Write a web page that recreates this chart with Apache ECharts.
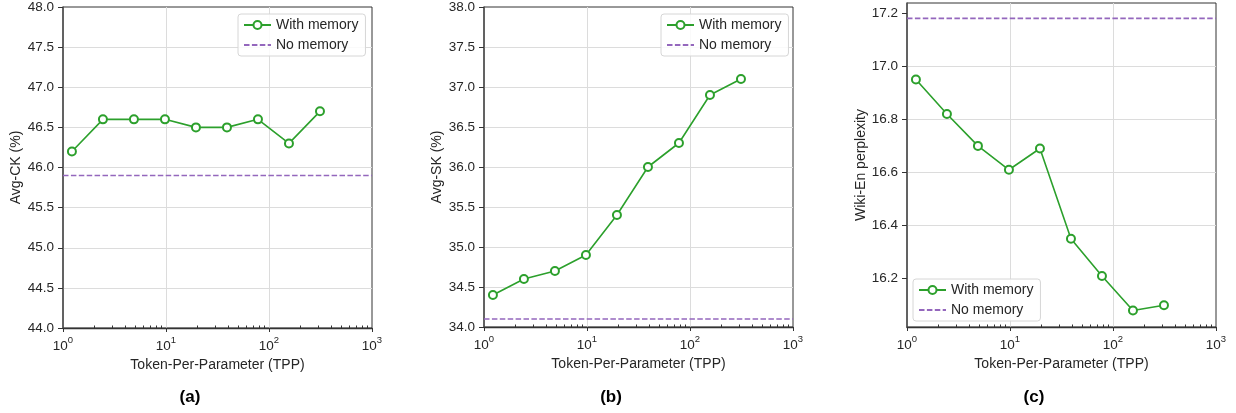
<!DOCTYPE html>
<html>
<head>
<meta charset="utf-8">
<script src="https://cdn.jsdelivr.net/npm/echarts@6/dist/echarts.min.js"></script>
<style>
  html, body { margin: 0; padding: 0; background: #fff; }
  #chart { width: 1236px; height: 413px; }
</style>
</head>
<body>
<div id="chart"></div>
<script>
// Token-per-parameter budgets shared by all three panels
const tpp = [1.2207, 2.4414, 4.8828, 9.7656, 19.531, 39.063, 78.125, 156.25, 312.5];

// (a) Avg-CK (%)
const ckWithMemory = [46.2, 46.6, 46.6, 46.6, 46.5, 46.5, 46.6, 46.3, 46.7];
const ckNoMemory = 45.9;
// (b) Avg-SK (%)
const skWithMemory = [34.4, 34.6, 34.7, 34.9, 35.4, 36.0, 36.3, 36.9, 37.1];
const skNoMemory = 34.1;
// (c) Wiki-En perplexity
const pplWithMemory = [16.95, 16.82, 16.70, 16.61, 16.69, 16.35, 16.21, 16.08, 16.10];
const pplNoMemory = 17.18;
const pplTicks = [16.2, 16.4, 16.6, 16.8, 17.0, 17.2];

const panelLabels = ['(a)', '(b)', '(c)'];
const yNames = ['Avg-CK (%)', 'Avg-SK (%)', 'Wiki-En perplexity'];
const xName = 'Token-Per-Parameter (TPP)';

const FONT = '"Liberation Sans", Arial, Helvetica, sans-serif';
const TEXT = '#262626';
const GREEN = '#2ca02c';
const PURPLE = '#9467bd';
const GRID_LINE = '#dcdcdc';

// minor tick positions for the log axis, expressed as decades
const minorLog = [];
for (let d = 0; d < 3; d++) {
  for (let k = 2; k <= 9; k++) minorLog.push(Math.log10(k * Math.pow(10, d)));
}

const panels = [
  { left: 63, top: 7, height: 321, y: ckWithMemory, base: ckNoMemory, yMin: 44, yMax: 48, interval: 0.5,
    legend: { left: 238, top: 14 }, labelX: 190, nameGap: 40 },
  { left: 484, top: 7, height: 320, y: skWithMemory, base: skNoMemory, yMin: 34, yMax: 38, interval: 0.5,
    legend: { left: 661, top: 14 }, labelX: 611, nameGap: 40 },
  { left: 907, top: 3, height: 324, y: pplWithMemory, base: pplNoMemory, yMin: 16.018, yMax: 17.238, custom: pplTicks,
    legend: { left: 913, top: 279 }, labelX: 1034, nameGap: 39 }
];

const grid = [], xAxis = [], yAxis = [], series = [], legend = [], graphic = [];

panels.forEach((p, i) => {
  grid.push({
    left: p.left, top: p.top, width: 309, height: p.height,
    show: true, borderColor: '#333', borderWidth: 1, backgroundColor: 'transparent'
  });

  // main logarithmic axis: data, labels, grid lines, major ticks
  xAxis.push({
    type: 'log', logBase: 10, gridIndex: i, min: 1, max: 1000, position: 'bottom',
    name: xName, nameLocation: 'middle', nameGap: 30,
    nameTextStyle: { fontFamily: FONT, fontSize: 14, color: TEXT },
    axisLine: { show: true, lineStyle: { color: '#333', width: 1.3 } },
    axisTick: { show: true, inside: false, length: 4, lineStyle: { color: '#333', width: 1 } },
    axisLabel: {
      margin: 7,
      formatter: v => '{b|10}{s|' + Math.round(Math.log10(v)) + '}',
      rich: {
        b: { fontFamily: FONT, fontSize: 13.5, color: TEXT, lineHeight: 18, verticalAlign: 'bottom' },
        s: { fontFamily: FONT, fontSize: 9.5, color: TEXT, lineHeight: 10, verticalAlign: 'top' }
      }
    },
    splitLine: { show: true, showMinLine: false, showMaxLine: false,
      lineStyle: { color: GRID_LINE, width: 1 } },
    minorTick: { show: false }
  });

  // companion axis in decade units carrying the minor ticks
  xAxis.push({
    type: 'value', gridIndex: i, min: 0, max: 3, position: 'bottom',
    axisLine: { show: false },
    axisLabel: { show: false },
    splitLine: { show: false },
    axisTick: { show: true, inside: true, length: 2.5, customValues: minorLog,
      lineStyle: { color: '#333', width: 1 } }
  });

  const yLabel = {
    margin: 9, fontFamily: FONT, fontSize: 13.5, color: TEXT,
    formatter: v => v.toFixed(1)
  };
  const yTick = { show: true, inside: false, length: 5, lineStyle: { color: '#333', width: 1 } };
  if (p.custom) {
    yLabel.customValues = p.custom;
    yTick.customValues = p.custom;
  }
  const y = {
    type: 'value', gridIndex: i, min: p.yMin, max: p.yMax,
    name: yNames[i], nameLocation: 'middle', nameGap: p.nameGap,
    nameTextStyle: { fontFamily: FONT, fontSize: 14, color: TEXT },
    axisLine: { show: true, lineStyle: { color: '#555', width: 1.6 } },
    axisTick: yTick,
    axisLabel: yLabel,
    splitLine: { show: true, showMinLine: false, showMaxLine: false,
      lineStyle: { color: GRID_LINE, width: 1 } }
  };
  if (p.interval) y.interval = p.interval;
  yAxis.push(y);

  series.push({
    name: 'With memory', type: 'line', xAxisIndex: 2 * i, yAxisIndex: i,
    data: tpp.map((x, j) => [x, p.y[j]]),
    symbol: 'emptyCircle', symbolSize: 8,
    itemStyle: { color: GREEN, borderWidth: 1.6 },
    lineStyle: { color: GREEN, width: 1.6 },
    emphasis: { disabled: true }, z: 3
  });
  series.push({
    name: 'No memory', type: 'line', xAxisIndex: 2 * i, yAxisIndex: i,
    data: [[1, p.base], [1000, p.base]],
    symbol: 'none', itemStyle: { color: PURPLE, opacity: 0 },
    lineStyle: { color: PURPLE, width: 1.6, type: [5.5, 2.4] },
    emphasis: { disabled: true }, z: 2
  });

  legend.push({
    left: p.legend.left, top: p.legend.top, orient: 'vertical',
    data: [
      { name: 'With memory' },
      { name: 'No memory', itemStyle: { opacity: 0 } }
    ],
    itemWidth: 27, itemHeight: 10, itemGap: 6,
    padding: [4, 7, 4, 5],
    backgroundColor: 'rgba(255,255,255,0.85)',
    borderColor: '#d6d6d6', borderWidth: 1, borderRadius: 3,
    textStyle: { fontFamily: FONT, fontSize: 14, color: TEXT },
    selectedMode: false
  });

  graphic.push({
    type: 'text', x: p.labelX, y: 397,
    style: { text: panelLabels[i], fontFamily: FONT, fontSize: 17, fontWeight: 'bold',
      fill: '#000', align: 'center', verticalAlign: 'middle' }
  });
});

const chart = echarts.init(document.getElementById('chart'), null, { renderer: 'canvas' });
chart.setOption({
  animation: false,
  backgroundColor: '#fff',
  grid, xAxis, yAxis, series, legend, graphic
});
</script>
</body>
</html>
